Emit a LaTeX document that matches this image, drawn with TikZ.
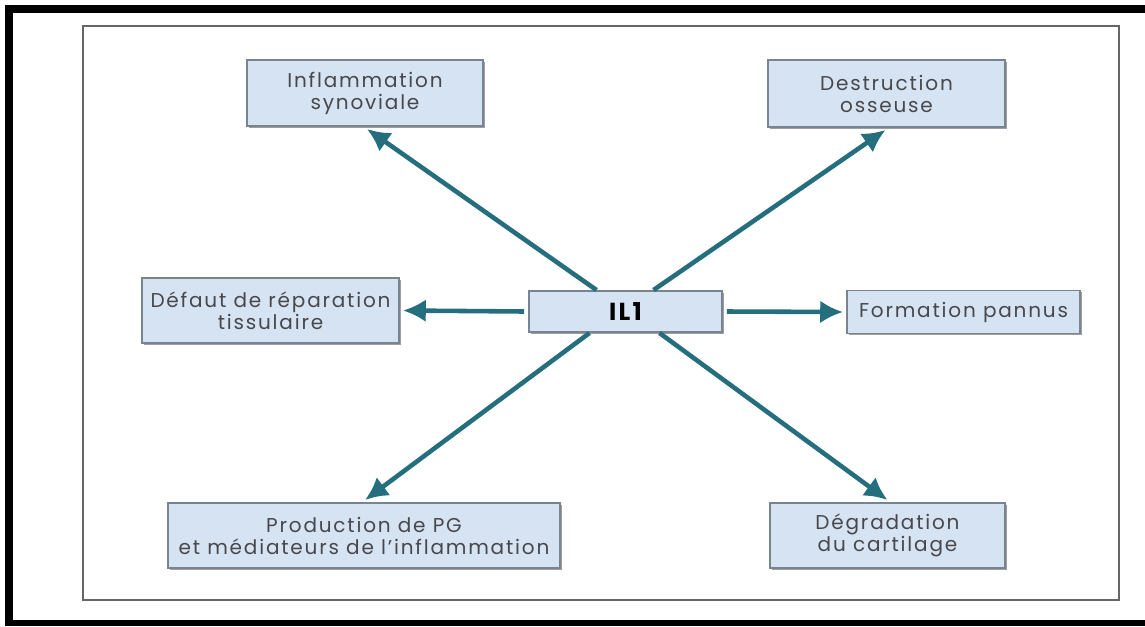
\documentclass[tikz,border=0pt]{standalone}
\usepackage{fontspec}
\setmainfont[LetterSpace=9]{Poppins}
\usepackage{tikz}
\usetikzlibrary{arrows.meta,calc,shadows}
\usepackage{xcolor}
\definecolor{teallink}{RGB}{36,110,126}
\definecolor{boxfill}{RGB}{214,227,242}
\definecolor{boxline}{RGB}{120,132,144}
\definecolor{txtgray}{RGB}{72,72,76}
\tikzset{
  box/.style={draw=boxline,line width=1.1pt,fill=boxfill,inner sep=0pt,
    align=center,text=txtgray,font=\fontsize{11.4}{12.5}\selectfont,
    drop shadow={shadow xshift=0.9pt,shadow yshift=-0.9pt,fill=gray!75,opacity=1}},
  link/.style={draw=teallink,line width=2.6pt,-{Latex[length=13pt,width=13pt]}}
}
\begin{document}
\begin{tikzpicture}[x=0.02cm,y=-0.02cm]
\useasboundingbox (0,0) rectangle (1145,626);
\fill[white] (0,0) rectangle (1145,626);
% black edge
\fill[black] (5,5) rectangle (1145,13);
\fill[black] (5,5) rectangle (13,626);
\fill[black] (5,620) rectangle (1145,626);
% frame
\draw[gray!80!black,line width=1.2pt] (83,26) rectangle (1119,600);
% boxes
\node[box,minimum width=4.72cm,minimum height=1.32cm] (infl) at (365,93) {Inflammation\\synoviale};
\node[box,minimum width=4.74cm,minimum height=1.34cm] (destr) at (886.5,93.5) {Destruction\\osseuse};
\node[box,minimum width=3.86cm,minimum height=0.82cm,text=black,font=\fontsize{14}{16}\selectfont\bfseries] (il1) at (625.5,311.5) {IL1};
\node[box,minimum width=5.14cm,minimum height=1.30cm] (defaut) at (270.5,310.5) {Défaut de réparation\\tissulaire};
\node[box,minimum width=4.66cm,minimum height=0.86cm] (pannus) at (963.5,312) {Formation pannus};
\node[box,minimum width=7.84cm,minimum height=1.30cm] (prod) at (364,535.5) {Production de PG\\et médiateurs de l’inflammation};
\node[box,minimum width=4.70cm,minimum height=1.30cm] (degr) at (887.5,535.5) {Dégradation\\du cartilage};
% arrows from IL1
\draw[link] ($(il1.north)+(-29,0)$) -- ($(infl.south)+(2,2)$);
\draw[link] ($(il1.north)+(28,0)$) -- ($(destr.south)+(-1,2)$);
\draw[link] ($(il1.south)+(-36,0)$) -- ($(prod.north)+(1,-2)$);
\draw[link] ($(il1.south)+(34,0)$) -- ($(degr.north)+(0,-2)$);
\draw[link] ($(il1.west)+(-4,0)$) -- ($(defaut.east)+(3,0)$);
\draw[link] ($(il1.east)+(4,0)$) -- ($(pannus.west)+(-3,0)$);
\end{tikzpicture}
\end{document}
